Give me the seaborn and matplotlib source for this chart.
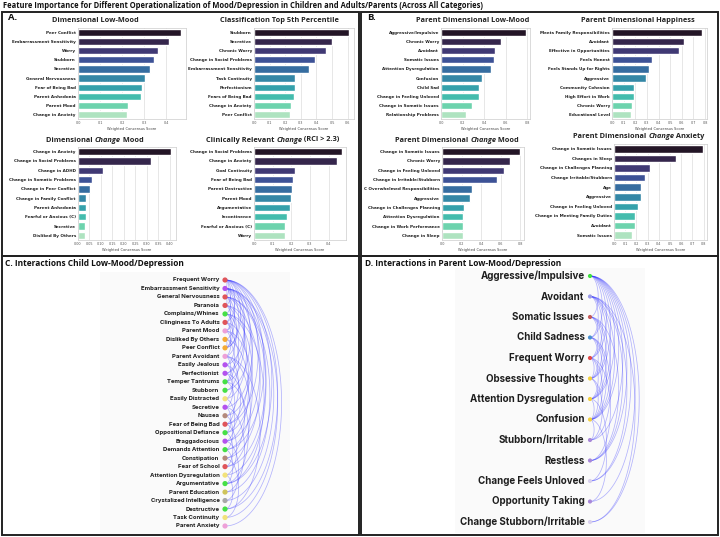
import numpy as np
import pandas as pd
import matplotlib
matplotlib.use("Agg")
import matplotlib.pyplot as plt
import seaborn as sns
from matplotlib.patches import Rectangle

# ---------------- data ----------------
main_title = "Feature Importance for Different Operationalization of Mood/Depression in Children and Adults/Parents (Across All Categories)"

A1_features = ["Peer Conflict", "Embarrassment Sensitivity", "Worry", "Stubborn", "Secretive",
               "General Nervousness", "Fear of Being Bad", "Parent Anhedonia", "Parent Mood", "Change in Anxiety"]
A1_scores = [0.465, 0.41, 0.36, 0.345, 0.327, 0.303, 0.29, 0.287, 0.226, 0.223]

A2_features = ["Stubborn", "Secretive", "Chronic Worry", "Change in Social Problems", "Embarrassment Sensitivity",
               "Task Continuity", "Perfectionism", "Fears of Being Bad", "Change in Anxiety", "Peer Conflict"]
A2_scores = [0.61, 0.498, 0.46, 0.388, 0.35, 0.26, 0.26, 0.255, 0.238, 0.232]

A3_features = ["Change in Anxiety", "Change in Social Problems", "Change in ADHD", "Change in Somatic Problems",
               "Change in Peer Conflict", "Change in Family Conflict", "Parent Anhedonia",
               "Fearful or Anxious (C)", "Secretive", "Disliked By Others"]
A3_scores = [0.407, 0.317, 0.111, 0.06, 0.053, 0.037, 0.036, 0.036, 0.031, 0.029]

A4_features = ["Change in Social Problems", "Change in Anxiety", "Goal Continuity", "Fear of Being Bad",
               "Parent Destructive", "Parent Mood", "Argumentative", "Incontinence",
               "Fearful or Anxious (C)", "Worry"]
A4_scores = [0.47, 0.447, 0.222, 0.21, 0.203, 0.196, 0.195, 0.175, 0.167, 0.166]

B1_features = ["Aggressive/Impulsive", "Chronic Worry", "Avoidant", "Somatic Issues", "Attention Dysregulation",
               "Confusion", "Child Sad", "Change in Feeling Unloved", "Change in Somatic Issues",
               "Relationship Problems"]
B1_scores = [0.785, 0.554, 0.5, 0.49, 0.46, 0.38, 0.354, 0.35, 0.29, 0.228]

B2_features = ["Meets Family Responsibilities", "Avoidant", "Effective in Opportunities", "Feels Honest",
               "Feels Stands Up for Rights", "Aggressive", "Community Cohesion", "High Effort in Work",
               "Chronic Worry", "Educational Level"]
B2_scores = [0.778, 0.617, 0.58, 0.34, 0.32, 0.294, 0.19, 0.185, 0.17, 0.161]

B3_features = ["Change in Somatic Issues", "Chronic Worry", "Change in Feeling Unloved",
               "Change in Irritable/Stubborn", "C Overwhelmed Responsibilities", "Aggressive",
               "Change in Challenges Planning", "Attention Dysregulation", "Change in Work Performance",
               "Change in Sleep"]
B3_scores = [0.8, 0.70, 0.63, 0.565, 0.31, 0.29, 0.225, 0.22, 0.215, 0.21]

B4_features = ["Change in Somatic Issues", "Changes in Sleep", "Change in Challenges Planning",
               "Change Irritable/Stubborn", "Age", "Aggressive", "Change in Feeling Unloved",
               "Change in Meeting Family Duties", "Avoidant", "Somatic Issues"]
B4_scores = [0.79, 0.55, 0.317, 0.278, 0.245, 0.242, 0.213, 0.183, 0.183, 0.16]

C_nodes = ["Frequent Worry", "Embarrassment Sensitivity", "General Nervousness", "Paranoia",
           "Complains/Whines", "Clinginess To Adults", "Parent Mood", "Disliked By Others", "Peer Conflict",
           "Parent Avoidant", "Easily Jealous", "Perfectionist", "Temper Tantrums", "Stubborn",
           "Easily Distracted", "Secretive", "Nausea", "Fear of Being Bad", "Oppositional Defiance",
           "Braggadocious", "Demands Attention", "Constipation", "Fear of School", "Attention Dysregulation",
           "Argumentative", "Parent Education", "Crystalized Intelligence", "Destructive",
           "Task Continuity", "Parent Anxiety"]
C_colors = ["#e0555a", "#b452ee", "#e0555a", "#e0555a", "#46e046", "#e0555a", "#eea0d8", "#f5aa35",
            "#f5aa35", "#eea0d8", "#b452ee", "#b452ee", "#46e046", "#46e046", "#f2e27a", "#b452ee",
            "#b48a7c", "#e0555a", "#46e046", "#b452ee", "#46e046", "#b48a7c", "#e0555a", "#f2e27a",
            "#46e046", "#cfc45a", "#a8a8a8", "#46e046", "#f2e27a", "#eea0d8"]
C_edges = [(0, 1), (0, 2), (0, 3), (0, 5), (0, 8), (0, 10), (0, 13), (0, 17), (0, 20), (0, 24), (0, 27), (0, 29),
           (1, 2), (1, 4), (1, 6), (1, 8), (1, 11), (1, 15), (1, 19), (1, 22), (1, 26), (1, 28),
           (2, 3), (2, 5), (2, 7), (2, 12), (2, 16), (2, 23), (2, 25),
           (3, 6), (3, 9), (3, 14), (3, 21),
           (4, 8), (4, 11), (4, 18), (4, 24),
           (5, 8), (5, 10), (5, 17),
           (6, 9), (6, 13), (6, 20),
           (7, 8), (7, 12), (7, 19),
           (9, 12), (9, 16), (9, 22), (9, 27),
           (10, 14), (10, 18), (11, 15), (11, 21), (12, 17), (12, 24),
           (14, 19), (15, 18), (15, 25), (16, 20), (17, 23), (18, 22), (19, 26), (20, 24),
           (21, 28), (23, 27)]

D_nodes = ["Aggressive/Impulsive", "Avoidant", "Somatic Issues", "Child Sadness", "Frequent Worry",
           "Obsessive Thoughts", "Attention Dysregulation", "Confusion", "Stubborn/Irritable", "Restless",
           "Change Feels Unloved", "Opportunity Taking", "Change Stubborn/Irritable"]
D_colors = ["#3ee03e", "#9a9ae8", "#c45a5a", "#4a90d0", "#e04a4a", "#f2d040", "#f2d040", "#f2d040",
            "#a888d8", "#a888d8", "#d8d0ec", "#a888d8", "#d8d0ec"]
D_edges = [(0, 2), (0, 3), (0, 4), (0, 5), (0, 6), (0, 7), (0, 8), (0, 9), (0, 10), (0, 11), (0, 12),
           (1, 3), (1, 4), (1, 5), (1, 6), (1, 7), (1, 9), (1, 10), (1, 12),
           (2, 4), (2, 5), (2, 6), (2, 7), (2, 9),
           (3, 5), (3, 6), (3, 7), (3, 8),
           (4, 5), (4, 6), (4, 7), (4, 9),
           (5, 7), (5, 8), (6, 7), (6, 10), (7, 8), (7, 11)]

# ---------------- figure ----------------
sns.set_theme(style="whitegrid")
plt.rcParams['font.family'] = ['DejaVu Sans']
W, H = 720, 537
fig = plt.figure(figsize=(7.2, 5.37), dpi=100)
fig.patch.set_facecolor("white")
R = fig.canvas.get_renderer()


def fax(x0, y0, x1, y1):
    return fig.add_axes([x0 / W, 1 - y1 / H, (x1 - x0) / W, (y1 - y0) / H])


def ftext(x, y, s, **kw):
    return fig.text(x / W, 1 - y / H, s, **kw)


def rich_title(xc, y, parts, size=5.3, family="Open Sans"):
    texts, widths = [], []
    for s, it in parts:
        t = ftext(0, y, s, fontsize=size, fontweight="bold", style="italic" if it else "normal",
                  family=family, va="center", ha="left", color="#222222")
        widths.append(t.get_window_extent(renderer=R).width)
        texts.append(t)
    x = xc - sum(widths) / 2
    for t, w in zip(texts, widths):
        t.set_position((x / W, 1 - y / H))
        x += w


def bar_panel(box, features, scores):
    ax = fax(*box)
    df = pd.DataFrame({"feature": features, "score": scores})
    sns.barplot(data=df, x="score", y="feature", hue="feature", palette="mako",
                legend=False, ax=ax, saturation=1)
    ax.set_ylabel("")
    ax.set_xlabel("Weighted Consensus Score", fontsize=2.6, labelpad=1.5, color="#444444")
    ax.tick_params(axis="x", labelsize=2.4, pad=1.5, length=0, colors="#555555")
    ax.tick_params(axis="y", labelsize=3.0, pad=1.5, length=0)
    for lab in ax.get_yticklabels():
        lab.set_fontweight("bold")
        lab.set_color("#222222")
    ax.grid(axis="y", visible=False)
    ax.grid(axis="x", color="#dddddd", linewidth=0.5)
    for sp in ax.spines.values():
        sp.set_color("#cccccc")
        sp.set_linewidth(0.5)
    return ax


# main title
ftext(3, 6, main_title, fontsize=5.45, fontweight="bold", family="Open Sans", va="center", ha="left",
      color="#111111")

# panel frames
for (x0, y0, x1, y1) in [(2, 12, 359, 256), (361, 12, 718, 256), (2, 256, 359, 535), (361, 256, 718, 535)]:
    fig.add_artist(Rectangle((x0 / W, 1 - y1 / H), (x1 - x0) / W, (y1 - y0) / H,
                             transform=fig.transFigure, fill=False, lw=1.4, ec="#222222"))

ftext(8, 18, "A.", fontsize=6.8, fontweight="bold", family="Open Sans", va="center", color="#111111")
ftext(367, 18, "B.", fontsize=6.8, fontweight="bold", family="Open Sans", va="center", color="#111111")
ftext(5, 264, "C. Interactions Child Low-Mood/Depression", fontsize=6.0, fontweight="bold",
      family="Open Sans", va="center", color="#111111")
ftext(365, 264, "D. Interactions in Parent Low-Mood/Depression", fontsize=6.0, fontweight="bold",
      family="Open Sans", va="center", color="#111111")

# bar panels
bar_panel((78, 28, 186, 119), A1_features, A1_scores)
rich_title(95, 20, [("Dimensional Low-Mood", False)])
bar_panel((254, 28, 354, 119), A2_features, A2_scores)
rich_title(279, 20, [("Classification Top 5th Percentile", False)])
bar_panel((78, 147, 176, 240), A3_features, A3_scores)
rich_title(95, 140, [("Dimensional ", False), ("Change", True), (" Mood", False)])
bar_panel((254, 147, 346, 240), A4_features, A4_scores)
rich_title(273, 140, [("Clinically Relevant ", False), ("Change", True), (" (RCI > 2.3)", False)])

bar_panel((441, 28, 530, 119), B1_features, B1_scores)
rich_title(473, 20, [("Parent Dimensional Low-Mood", False)])
bar_panel((612, 28, 707, 119), B2_features, B2_scores)
rich_title(638, 20, [("Parent Dimensional Happiness", False)])
bar_panel((442, 147, 524, 240), B3_features, B3_scores)
rich_title(457, 140, [("Parent Dimensional ", False), ("Change", True), (" Mood", False)])
bar_panel((614, 144, 707, 240), B4_features, B4_scores)
rich_title(639, 137, [("Parent Dimensional ", False), ("Change", True), (" Anxiety", False)])


# arc networks
def arc_panel(box, node_x_px, first_y_px, step_px, nodes, colors, edges, k, lab_size, node_size, lw):
    x0, y0, x1, y1 = box
    ax = fax(x0, y0, x1, y1)
    ax.set_facecolor("#fafafa")
    for sp in ax.spines.values():
        sp.set_visible(False)
    ax.set_xticks([])
    ax.set_yticks([])
    ax.grid(False)
    top = -(first_y_px - y0) / step_px
    bottom = top + (y1 - y0) / step_px
    ax.set_ylim(bottom, top)
    left = -(node_x_px - x0) / step_px
    right = left + (x1 - x0) / step_px
    ax.set_xlim(left, right)
    t = np.linspace(0, np.pi, 80)
    for i, j in edges:
        r = (j - i) / 2
        mid = (i + j) / 2
        ax.plot(k * r * np.sin(t), mid - r * np.cos(t), color="#3434ff", alpha=0.36, lw=lw,
                solid_capstyle="round")
    idx = np.arange(len(nodes))
    ax.scatter(np.zeros(len(nodes)), idx, s=node_size, c=colors, zorder=3, linewidths=0)
    for n, name in enumerate(nodes):
        ax.text(-5.5 / step_px, n, name, ha="right", va="center",
                fontsize=lab_size, fontweight="bold", family="Inter", color="#1e1e1e")
    return ax


arc_panel((100, 272, 290, 534), 225, 280, (526 - 280) / 29, C_nodes, C_colors, C_edges,
          k=0.46, lab_size=4.3, node_size=14, lw=0.55)
arc_panel((455, 268, 645, 533), 590, 276, (522 - 276) / 12, D_nodes, D_colors, D_edges,
          k=0.4, lab_size=7.0, node_size=9, lw=0.55)

fig.savefig("out.png", dpi=100)
